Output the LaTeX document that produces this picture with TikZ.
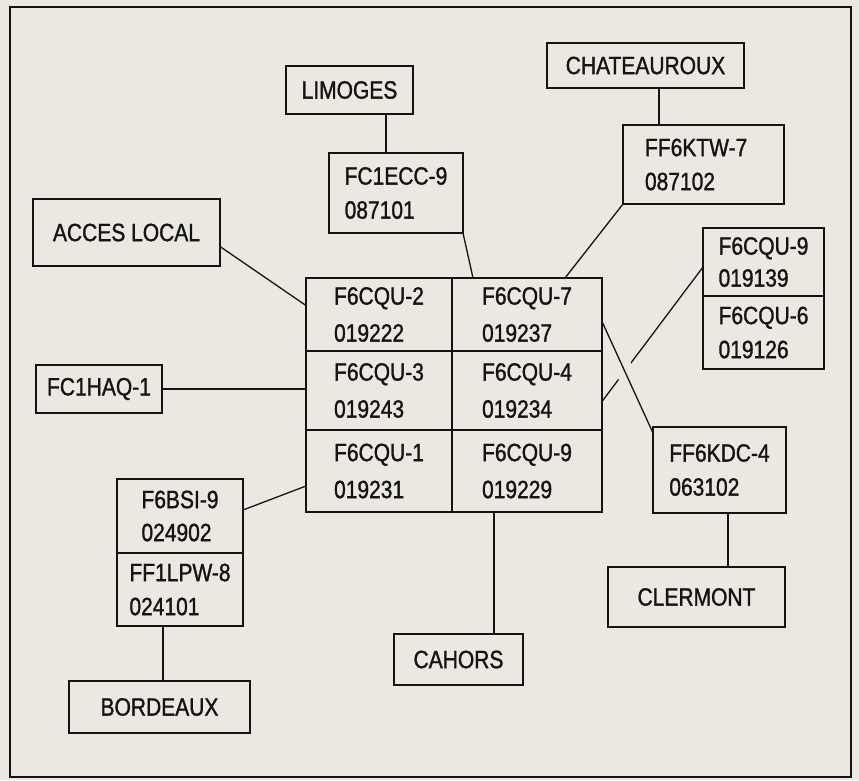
\documentclass[tikz,border=0pt]{standalone}
\usepackage{fontspec}
\setmainfont{Liberation Sans}[FakeStretch=0.84,FakeBold=1.2]
\usepackage{tikz}
\usetikzlibrary{positioning,calc}
\usepackage{xcolor}
\definecolor{paper}{RGB}{234,232,224}
\definecolor{ink}{RGB}{20,20,20}

\begin{document}
\begin{tikzpicture}[x=1pt,y=-1pt,
  box/.style={rectangle,draw=ink,line width=1.3pt,outer sep=0pt,inner sep=4pt,
    font=\fontsize{25}{34}\selectfont,text=ink,align=left},
  cell/.style={box,minimum width=#1},
  link/.style={draw=ink,line width=1.3pt}]
\useasboundingbox (0,0) rectangle (859,780);
\fill[paper] (0,0) rectangle (859,780);
\draw[ink,line width=2.2pt] (10,7) rectangle (851,777);

% towns
\node[box,minimum width=127pt,minimum height=48pt] (limoges) at (349.5,90) {LIMOGES};
\node[box,minimum width=197pt,minimum height=45pt] (chateau) at (645.5,65.5) {CHATEAUROUX};
\node[box,minimum width=187pt,minimum height=67pt] (acces) at (126.5,232.5) {ACCES LOCAL};
\node[box,minimum width=181pt,minimum height=52pt] (bordeaux) at (159.5,707) {BORDEAUX};
\node[box,minimum width=129pt,minimum height=51pt] (cahors) at (458.5,659.5) {CAHORS};
\node[box,minimum width=177pt,minimum height=60pt] (clermont) at (696.5,597) {CLERMONT};

% relays
\node[box,minimum width=134pt,minimum height=80pt] (fcecc) at (396,193) {FC1ECC-9\\087101};
\node[box,minimum width=161pt,minimum height=79pt,text width=117pt] (fktw) at (703.5,164.5) {FF6KTW-7\\087102};
\node[box,minimum width=126pt,minimum height=48pt] (fchaq) at (99,389) {FC1HAQ-1};
\node[box,minimum width=133pt,minimum height=86pt] (fkdc) at (719.5,470) {FF6KDC-4\\063102};

% central block
\node[cell=146pt,minimum height=73pt] (q2) at (379,314.5) {F6CQU-2\\[3pt]019222};
\node[cell=150pt,minimum height=73pt,right=0pt of q2] (q7) {F6CQU-7\\[3pt]019237};
\node[cell=146pt,minimum height=79pt,below=0pt of q2] (q3) {F6CQU-3\\[3pt]019243};
\node[cell=150pt,minimum height=79pt,right=0pt of q3] (q4) {F6CQU-4\\[3pt]019234};
\node[cell=146pt,minimum height=82pt,below=0pt of q3] (q1) {F6CQU-1\\[3pt]019231};
\node[cell=150pt,minimum height=82pt,right=0pt of q1] (q9) {F6CQU-9\\[3pt]019229};

% stacks
\node[cell=121pt,minimum height=68pt] (cqu9b) at (763.5,262) {F6CQU-9\\[-2pt]019139};
\node[cell=121pt,minimum height=73pt,below=0pt of cqu9b] (cqu6) {F6CQU-6\\019126};
\node[cell=126pt,minimum height=74pt] (bsi) at (180,516) {F6BSI-9\\[-1pt]024902};
\node[cell=126pt,minimum height=73pt,below=0pt of bsi] (flpw) {FF1LPW-8\\024101};

% links
\draw[link] ([xshift=-10pt]fcecc.north) -- ([xshift=-10pt]fcecc.north |- limoges.south);
\draw[link] ([xshift=-44.5pt]fktw.north) -- ([xshift=-44.5pt]fktw.north |- chateau.south);
\draw[link] (fcecc.south east) -- ([xshift=21pt]q7.north west);
\draw[link] (fktw.south west) -- ([xshift=38pt]q7.north);
\draw[link] ([yshift=-14pt]acces.east) -- ([yshift=9pt]q2.west);
\draw[link] (fchaq.east) -- (fchaq.east -| q3.west);
\draw[link] ([yshift=6pt]bsi.east) -- ([yshift=-15pt]q1.west);
\draw[link] ([xshift=-17pt]flpw.south) -- ([xshift=-17pt]flpw.south |- bordeaux.north);
\draw[link] ([xshift=-33pt]q9.south) -- ([xshift=-33pt]q9.south |- cahors.north);
\draw[link] ([yshift=-5pt]cqu9b.west) -- ([yshift=-11pt]q4.east);
\draw[paper,line width=18pt,shorten <=42pt,shorten >=50pt]
  ([yshift=-7pt]q7.east) -- ([yshift=-6pt]fkdc.north west);
\draw[link] ([yshift=-7pt]q7.east) -- ([yshift=-6pt]fkdc.north west);
\draw[link] ([xshift=8.5pt]fkdc.south) -- ([xshift=8.5pt]fkdc.south |- clermont.north);
\end{tikzpicture}
\end{document}
